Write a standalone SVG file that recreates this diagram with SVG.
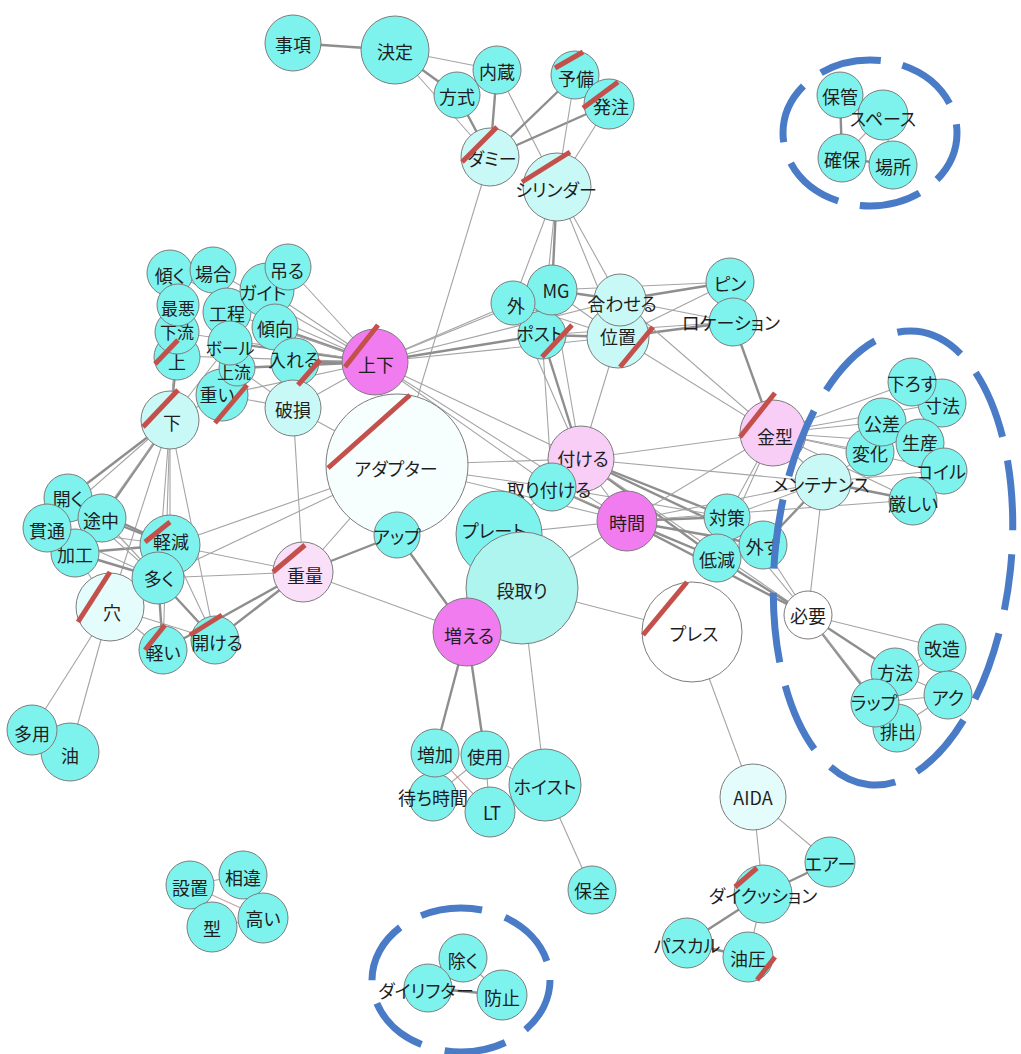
<svg xmlns="http://www.w3.org/2000/svg" width="1021" height="1054" viewBox="0 0 1021 1054">
<style>
  .e{stroke:#a4a4a4;stroke-width:1.1;fill:none}
  .t{stroke:#8e8e8e;stroke-width:2.4}
  .r{stroke:#c9a3a3}
  .node circle{stroke:#7c7c7c;stroke-width:1}
  .c{fill:#7ef3ee}
  .lc{fill:#c9f9f6}
  .dc{fill:#aef5f0}
  .vl{fill:#e4fcfb}
  .ad{fill:#f6fefe}
  .w{fill:#ffffff}
  .m{fill:#f07cf0}
  .lp{fill:#f8cdf6}
  .lp2{fill:#fadff9}
  text{font-family:"Noto Sans CJK JP","Noto Sans",sans-serif;font-size:18px;fill:#1e1e1e;text-anchor:middle;dominant-baseline:central;font-feature-settings:"palt"}
  .sm{font-size:17px}
  .slash line{stroke:#c4504c;stroke-width:5}
  .ring{fill:none;stroke:#4a7bc6;stroke-width:7}
</style>

<!-- connectors -->
<g id="edges">
  <line class="e t" x1="293" y1="43" x2="395" y2="50"/>
  <line class="e" x1="395" y1="50" x2="497" y2="70"/>
  <line class="e t" x1="395" y1="50" x2="457" y2="95"/>
  <line class="e" x1="395" y1="50" x2="490" y2="157"/>
  <line class="e t" x1="457" y1="95" x2="490" y2="157"/>
  <line class="e t" x1="497" y1="70" x2="490" y2="157"/>
  <line class="e" x1="497" y1="70" x2="557" y2="187"/>
  <line class="e t" x1="575" y1="75" x2="490" y2="157"/>
  <line class="e t" x1="609" y1="104" x2="490" y2="157"/>
  <line class="e" x1="575" y1="75" x2="557" y2="187"/>
  <line class="e" x1="609" y1="104" x2="557" y2="187"/>
  <line class="e" x1="490" y1="157" x2="397" y2="465"/>
  <line class="e" x1="557" y1="187" x2="513" y2="303"/>
  <line class="e t" x1="557" y1="187" x2="552" y2="290"/>
  <line class="e" x1="557" y1="187" x2="542" y2="335"/>
  <line class="e" x1="557" y1="187" x2="620" y2="300"/>
  <line class="e" x1="557" y1="187" x2="618" y2="337"/>

  <line class="e t" x1="840" y1="95" x2="842" y2="158"/>
  <line class="e" x1="840" y1="95" x2="883" y2="115"/>
  <line class="e r" x1="883" y1="115" x2="842" y2="158"/>
  <line class="e" x1="883" y1="115" x2="893" y2="165"/>
  <line class="e t" x1="842" y1="158" x2="893" y2="165"/>

  <line class="e" x1="288" y1="267" x2="375" y2="362"/>
  <line class="e" x1="267" y1="290" x2="375" y2="362"/>
  <line class="e t" x1="275" y1="327" x2="375" y2="362"/>
  <line class="e" x1="227" y1="312" x2="375" y2="362"/>
  <line class="e t" x1="230" y1="343" x2="375" y2="362"/>
  <line class="e t" x1="237" y1="368" x2="375" y2="362"/>
  <line class="e" x1="222" y1="395" x2="375" y2="362"/>
  <line class="e t" x1="295" y1="362" x2="375" y2="362"/>
  <line class="e" x1="213" y1="270" x2="375" y2="362"/>
  <line class="e" x1="170" y1="273" x2="375" y2="362"/>
  <line class="e" x1="177" y1="356" x2="375" y2="362"/>
  <line class="e" x1="177" y1="332" x2="375" y2="362"/>

  <line class="e t" x1="177" y1="356" x2="170" y2="420"/>
  <line class="e" x1="177" y1="332" x2="170" y2="420"/>
  <line class="e" x1="222" y1="395" x2="170" y2="420"/>
  <line class="e" x1="230" y1="343" x2="170" y2="420"/>
  <line class="e" x1="222" y1="395" x2="293" y2="408"/>
  <line class="e" x1="295" y1="362" x2="293" y2="408"/>
  <line class="e" x1="237" y1="368" x2="293" y2="408"/>
  <line class="e" x1="293" y1="408" x2="375" y2="362"/>
  <line class="e" x1="293" y1="408" x2="397" y2="465"/>
  <line class="e" x1="293" y1="408" x2="303" y2="572"/>

  <line class="e t" x1="170" y1="420" x2="68" y2="498"/>
  <line class="e t" x1="170" y1="420" x2="102" y2="518"/>
  <line class="e" x1="170" y1="420" x2="47" y2="528"/>
  <line class="e" x1="170" y1="420" x2="75" y2="553"/>
  <line class="e" x1="170" y1="420" x2="170" y2="545"/>
  <line class="e" x1="170" y1="420" x2="158" y2="578"/>
  <line class="e" x1="170" y1="420" x2="163" y2="650"/>
  <line class="e" x1="170" y1="420" x2="215" y2="640"/>
  <line class="e" x1="170" y1="420" x2="110" y2="607"/>

  <line class="e t" x1="68" y1="498" x2="170" y2="545"/>
  <line class="e t" x1="102" y1="518" x2="170" y2="545"/>
  <line class="e" x1="47" y1="528" x2="170" y2="545"/>
  <line class="e t" x1="75" y1="553" x2="170" y2="545"/>
  <line class="e t" x1="75" y1="553" x2="158" y2="578"/>
  <line class="e" x1="102" y1="518" x2="158" y2="578"/>
  <line class="e" x1="68" y1="498" x2="158" y2="578"/>
  <line class="e" x1="47" y1="528" x2="158" y2="578"/>
  <line class="e" x1="110" y1="607" x2="158" y2="578"/>
  <line class="e t" x1="158" y1="578" x2="163" y2="650"/>
  <line class="e t" x1="158" y1="578" x2="215" y2="640"/>
  <line class="e" x1="170" y1="545" x2="215" y2="640"/>
  <line class="e" x1="110" y1="607" x2="163" y2="650"/>
  <line class="e" x1="110" y1="607" x2="215" y2="640"/>
  <line class="e" x1="170" y1="545" x2="303" y2="572"/>
  <line class="e" x1="158" y1="578" x2="303" y2="572"/>
  <line class="e t" x1="163" y1="650" x2="303" y2="572"/>
  <line class="e t" x1="215" y1="640" x2="303" y2="572"/>
  <line class="e" x1="170" y1="545" x2="397" y2="465"/>
  <line class="e" x1="158" y1="578" x2="397" y2="465"/>
  <line class="e" x1="110" y1="607" x2="32" y2="730"/>
  <line class="e" x1="110" y1="607" x2="70" y2="752"/>
  <line class="e" x1="32" y1="730" x2="70" y2="752"/>
  <line class="e" x1="75" y1="553" x2="110" y2="607"/>

  <line class="e t" x1="303" y1="572" x2="397" y2="535"/>
  <line class="e" x1="303" y1="572" x2="467" y2="632"/>
  <line class="e" x1="303" y1="572" x2="397" y2="465"/>
  <line class="e t" x1="397" y1="535" x2="467" y2="632"/>
  <line class="e" x1="397" y1="535" x2="397" y2="465"/>

  <line class="e" x1="397" y1="465" x2="581" y2="459"/>
  <line class="e" x1="397" y1="465" x2="627" y2="521"/>
  <line class="e" x1="397" y1="465" x2="552" y2="487"/>
  <line class="e" x1="375" y1="362" x2="581" y2="459"/>
  <line class="e" x1="375" y1="362" x2="552" y2="487"/>
  <line class="e" x1="375" y1="362" x2="627" y2="521"/>
  <line class="e" x1="375" y1="362" x2="513" y2="303"/>
  <line class="e" x1="375" y1="362" x2="552" y2="290"/>
  <line class="e t" x1="375" y1="362" x2="542" y2="335"/>
  <line class="e" x1="375" y1="362" x2="620" y2="300"/>
  <line class="e" x1="375" y1="362" x2="618" y2="337"/>

  <line class="e" x1="513" y1="303" x2="581" y2="459"/>
  <line class="e" x1="552" y1="290" x2="581" y2="459"/>
  <line class="e t" x1="542" y1="335" x2="581" y2="459"/>
  <line class="e" x1="542" y1="335" x2="552" y2="487"/>
  <line class="e" x1="618" y1="337" x2="581" y2="459"/>
  <line class="e t" x1="552" y1="290" x2="620" y2="300"/>
  <line class="e" x1="552" y1="290" x2="618" y2="337"/>
  <line class="e t" x1="542" y1="335" x2="618" y2="337"/>
  <line class="e" x1="513" y1="303" x2="618" y2="337"/>
  <line class="e" x1="552" y1="290" x2="730" y2="282"/>
  <line class="e" x1="542" y1="335" x2="733" y2="322"/>
  <line class="e t" x1="620" y1="300" x2="730" y2="282"/>
  <line class="e" x1="620" y1="300" x2="733" y2="322"/>
  <line class="e" x1="618" y1="337" x2="730" y2="282"/>
  <line class="e t" x1="618" y1="337" x2="733" y2="322"/>
  <line class="e" x1="618" y1="337" x2="773" y2="433"/>
  <line class="e" x1="620" y1="300" x2="773" y2="433"/>
  <line class="e t" x1="733" y1="322" x2="773" y2="433"/>
  <line class="e" x1="581" y1="459" x2="773" y2="433"/>
  <line class="e" x1="581" y1="459" x2="823" y2="482"/>
  <line class="e t" x1="581" y1="459" x2="727" y2="517"/>
  <line class="e t" x1="581" y1="459" x2="763" y2="545"/>
  <line class="e t" x1="581" y1="459" x2="717" y2="558"/>
  <line class="e" x1="581" y1="459" x2="808" y2="615"/>
  <line class="e" x1="581" y1="459" x2="627" y2="521"/>
  <line class="e t" x1="552" y1="487" x2="627" y2="521"/>
  <line class="e" x1="552" y1="487" x2="727" y2="517"/>
  <line class="e" x1="552" y1="487" x2="717" y2="558"/>
  <line class="e t" x1="627" y1="521" x2="727" y2="517"/>
  <line class="e t" x1="627" y1="521" x2="763" y2="545"/>
  <line class="e t" x1="627" y1="521" x2="717" y2="558"/>
  <line class="e t" x1="627" y1="521" x2="808" y2="615"/>
  <line class="e" x1="627" y1="521" x2="773" y2="433"/>
  <line class="e" x1="627" y1="521" x2="823" y2="482"/>
  <line class="e" x1="627" y1="521" x2="522" y2="588"/>
  <line class="e" x1="627" y1="521" x2="499" y2="534"/>
  <line class="e" x1="773" y1="433" x2="727" y2="517"/>
  <line class="e" x1="773" y1="433" x2="717" y2="558"/>
  <line class="e" x1="773" y1="433" x2="823" y2="482"/>
  <line class="e" x1="773" y1="433" x2="912" y2="382"/>
  <line class="e" x1="773" y1="433" x2="942" y2="403"/>
  <line class="e" x1="773" y1="433" x2="882" y2="422"/>
  <line class="e" x1="773" y1="433" x2="870" y2="452"/>
  <line class="e" x1="773" y1="433" x2="920" y2="443"/>
  <line class="e" x1="773" y1="433" x2="944" y2="470"/>
  <line class="e" x1="773" y1="433" x2="913" y2="500"/>
  <line class="e" x1="823" y1="482" x2="727" y2="517"/>
  <line class="e t" x1="823" y1="482" x2="763" y2="545"/>
  <line class="e" x1="823" y1="482" x2="808" y2="615"/>
  <line class="e t" x1="823" y1="482" x2="913" y2="500"/>
  <line class="e" x1="823" y1="482" x2="944" y2="470"/>
  <line class="e" x1="823" y1="482" x2="870" y2="452"/>
  <line class="e" x1="627" y1="521" x2="913" y2="500"/>
  <line class="e" x1="808" y1="615" x2="942" y2="648"/>
  <line class="e t" x1="808" y1="615" x2="895" y2="672"/>
  <line class="e t" x1="808" y1="615" x2="875" y2="703"/>
  <line class="e" x1="808" y1="615" x2="897" y2="728"/>
  <line class="e" x1="808" y1="615" x2="763" y2="545"/>
  <line class="e t" x1="808" y1="615" x2="717" y2="558"/>
  <line class="e" x1="808" y1="615" x2="727" y2="517"/>
  <line class="e" x1="895" y1="672" x2="948" y2="695"/>
  <line class="e" x1="875" y1="703" x2="948" y2="695"/>
  <line class="e r" x1="942" y1="648" x2="875" y2="703"/>
  <line class="e" x1="897" y1="728" x2="948" y2="695"/>
  <line class="e r" x1="942" y1="648" x2="895" y2="672"/>
  <line class="e r" x1="912" y1="382" x2="942" y2="403"/>

  <line class="e" x1="522" y1="588" x2="692" y2="632"/>
  <line class="e" x1="522" y1="588" x2="545" y2="785"/>
  <line class="e r" x1="499" y1="534" x2="552" y2="487"/>
  <line class="e t" x1="467" y1="632" x2="435" y2="753"/>
  <line class="e t" x1="467" y1="632" x2="485" y2="755"/>
  <line class="e" x1="435" y1="753" x2="433" y2="797"/>
  <line class="e" x1="485" y1="755" x2="490" y2="812"/>
  <line class="e" x1="490" y1="812" x2="545" y2="785"/>
  <line class="e" x1="485" y1="755" x2="545" y2="785"/>
  <line class="e" x1="433" y1="797" x2="490" y2="812"/>
  <line class="e r" x1="435" y1="753" x2="490" y2="812"/>
  <line class="e" x1="485" y1="755" x2="433" y2="797"/>
  <line class="e" x1="545" y1="785" x2="592" y2="890"/>
  <line class="e" x1="692" y1="632" x2="753" y2="797"/>
  <line class="e" x1="753" y1="797" x2="763" y2="894"/>
  <line class="e" x1="753" y1="797" x2="830" y2="862"/>
  <line class="e t" x1="763" y1="894" x2="830" y2="862"/>
  <line class="e t" x1="763" y1="894" x2="687" y2="943"/>
  <line class="e" x1="763" y1="894" x2="748" y2="957"/>
  <line class="e t" x1="687" y1="943" x2="748" y2="957"/>
  <line class="e" x1="190" y1="885" x2="243" y2="875"/>
  <line class="e" x1="190" y1="885" x2="212" y2="927"/>
  <line class="e r" x1="190" y1="885" x2="263" y2="918"/>
  <line class="e" x1="243" y1="875" x2="263" y2="918"/>
  <line class="e" x1="212" y1="927" x2="263" y2="918"/>
  <line class="e" x1="463" y1="958" x2="428" y2="988"/>
  <line class="e t" x1="428" y1="988" x2="502" y2="995"/>
  <line class="e" x1="463" y1="958" x2="502" y2="995"/>
</g>

<!-- word nodes -->
<g id="nodes">
  <g id="n-jikou" class="node"><circle class="c" cx="293" cy="43" r="28"/><text x="293" y="44">事項</text></g>
  <g id="n-kettei" class="node"><circle class="c" cx="395" cy="50" r="34"/><text x="395" y="51">決定</text></g>
  <g id="n-naizou" class="node"><circle class="c" cx="497" cy="70" r="24"/><text x="497" y="71">内蔵</text></g>
  <g id="n-houshiki" class="node"><circle class="c" cx="457" cy="95" r="23"/><text x="457" y="96">方式</text></g>
  <g id="n-yobi" class="node"><circle class="c" cx="575" cy="75" r="24"/><text x="576" y="78">予備</text></g>
  <g id="n-hacchuu" class="node"><circle class="c" cx="609" cy="104" r="25"/><text x="611" y="106">発注</text></g>
  <g id="n-dummy" class="node"><circle class="lc" cx="490" cy="157" r="29"/><text x="492" y="158">ダミー</text></g>
  <g id="n-cylinder" class="node"><circle class="lc" cx="557" cy="187" r="34"/><text x="556" y="189">シリンダー</text></g>

  <g id="n-hokan" class="node"><circle class="c" cx="840" cy="95" r="23"/><text x="840" y="96">保管</text></g>
  <g id="n-space" class="node"><circle class="c" cx="883" cy="115" r="25"/><text x="883" y="118">スペース</text></g>
  <g id="n-kakuho" class="node"><circle class="c" cx="842" cy="158" r="24"/><text x="842" y="159">確保</text></g>
  <g id="n-basho" class="node"><circle class="c" cx="893" cy="165" r="24"/><text x="893" y="166">場所</text></g>

  <g id="n-katamuku" class="node"><circle class="c" cx="170" cy="273" r="23"/><text x="170" y="275">傾く</text></g>
  <g id="n-baai" class="node"><circle class="c" cx="213" cy="270" r="23"/><text x="213" y="273">場合</text></g>
  <g id="n-koutei" class="node"><circle class="c" cx="227" cy="312" r="24"/><text x="227" y="313">工程</text></g>
  <g id="n-guide" class="node"><circle class="c" cx="267" cy="290" r="27"/><text x="263" y="292">ガイド</text></g>
  <g id="n-tsuru" class="node"><circle class="c" cx="288" cy="267" r="23"/><text x="287" y="270">吊る</text></g>
  <g id="n-keikou" class="node"><circle class="c" cx="275" cy="327" r="23"/><text x="275" y="328">傾向</text></g>
  <g id="n-ue" class="node"><circle class="c" cx="177" cy="357" r="23"/><text x="177" y="361">上</text></g>
  <g id="n-karyuu" class="node"><circle class="c" cx="177" cy="332" r="22"/><text class="sm" x="177" y="331">下流</text></g>
  <g id="n-saiaku" class="node"><circle class="c" cx="178" cy="305" r="21"/><text class="sm" x="178" y="307">最悪</text></g>
  <g id="n-omoi" class="node"><circle class="c" cx="222" cy="395" r="26"/><text x="217" y="394">重い</text></g>
  <g id="n-jouryuu" class="node"><circle class="c" cx="237" cy="368" r="18"/><text class="sm" x="234" y="371">上流</text></g>
  <g id="n-ball" class="node"><circle class="c" cx="230" cy="343" r="22"/><text class="sm" x="230" y="347">ボール</text></g>
  <g id="n-ireru" class="node"><circle class="c" cx="295" cy="362" r="24"/><text x="294" y="359">入れる</text></g>
  <g id="n-hason" class="node"><circle class="lc" cx="293" cy="408" r="28"/><text x="293" y="409">破損</text></g>
  <g id="n-shita" class="node"><circle class="lc" cx="170" cy="420" r="29"/><text x="172" y="422">下</text></g>

  <g id="n-hiraku" class="node"><circle class="c" cx="68" cy="498" r="24"/><text x="68" y="498">開く</text></g>
  <g id="n-tochuu" class="node"><circle class="c" cx="102" cy="518" r="24"/><text x="101" y="520">途中</text></g>
  <g id="n-kakou" class="node"><circle class="c" cx="75" cy="553" r="24"/><text x="75" y="554">加工</text></g>
  <g id="n-kantsuu" class="node"><circle class="c" cx="47" cy="528" r="24"/><text x="47" y="530">貫通</text></g>
  <g id="n-ana" class="node"><circle class="vl" cx="110" cy="607" r="34"/><text x="112" y="612">穴</text></g>
  <g id="n-keigen" class="node"><circle class="c" cx="170" cy="545" r="30"/><text x="171" y="541">軽減</text></g>
  <g id="n-ooku" class="node"><circle class="c" cx="158" cy="578" r="26"/><text x="159" y="578">多く</text></g>
  <g id="n-karui" class="node"><circle class="c" cx="163" cy="650" r="24"/><text x="163" y="652">軽い</text></g>
  <g id="n-akeru" class="node"><circle class="c" cx="215" cy="640" r="24"/><text x="217" y="642">開ける</text></g>
  <g id="n-juuryou" class="node"><circle class="lp2" cx="303" cy="572" r="30"/><text x="305" y="575">重量</text></g>
  <g id="n-abura" class="node"><circle class="c" cx="70" cy="752" r="29"/><text x="70" y="755">油</text></g>
  <g id="n-tayou" class="node"><circle class="c" cx="32" cy="730" r="25"/><text x="32" y="733">多用</text></g>

  <g id="n-jouge" class="node"><circle class="m" cx="375" cy="362" r="33"/><text x="376" y="364">上下</text></g>
  <g id="n-adapter" class="node"><circle class="ad" cx="397" cy="465" r="71"/><text x="396" y="468">アダプター</text></g>
  <g id="n-post" class="node"><circle class="c" cx="542" cy="335" r="24"/><text x="540" y="333">ポスト</text></g>
  <g id="n-mg" class="node"><circle class="c" cx="552" cy="290" r="25"/><text x="556" y="290">MG</text></g>
  <g id="n-soto" class="node"><circle class="c" cx="513" cy="303" r="22"/><text x="516" y="305">外</text></g>
  <g id="n-ichi" class="node"><circle class="lc" cx="618" cy="337" r="31"/><text x="618" y="336">位置</text></g>
  <g id="n-awaseru" class="node"><circle class="lc" cx="620" cy="300" r="26"/><text x="622" y="303">合わせる</text></g>
  <g id="n-pin" class="node"><circle class="c" cx="730" cy="282" r="24"/><text x="730" y="283">ピン</text></g>
  <g id="n-location" class="node"><circle class="c" cx="733" cy="322" r="24"/><text x="731" y="322">ロケーション</text></g>
  <g id="n-tsukeru" class="node"><circle class="lp" cx="581" cy="459" r="33"/><text x="583" y="458">付ける</text></g>
  <g id="n-toritsukeru" class="node"><circle class="c" cx="552" cy="487" r="24"/><text x="549" y="489">取り付ける</text></g>
  <g id="n-jikan" class="node"><circle class="m" cx="627" cy="521" r="30"/><text x="627" y="522">時間</text></g>
  <g id="n-up" class="node"><circle class="c" cx="397" cy="535" r="23"/><text x="397" y="536">アップ</text></g>
  <g id="n-plate" class="node"><circle class="c" cx="499" cy="534" r="43"/><text x="494" y="530">プレート</text></g>
  <g id="n-dandori" class="node"><circle class="dc" cx="522" cy="588" r="56"/><text x="522" y="590">段取り</text></g>
  <g id="n-fueru" class="node"><circle class="m" cx="467" cy="632" r="34"/><text x="469" y="635">増える</text></g>

  <g id="n-machijikan" class="node"><circle class="c" cx="433" cy="797" r="24"/><text x="433" y="797">待ち時間</text></g>
  <g id="n-zouka" class="node"><circle class="c" cx="435" cy="753" r="24"/><text x="435" y="754">増加</text></g>
  <g id="n-shiyou" class="node"><circle class="c" cx="485" cy="755" r="24"/><text x="485" y="756">使用</text></g>
  <g id="n-lt" class="node"><circle class="c" cx="490" cy="812" r="25"/><text x="492" y="812">LT</text></g>
  <g id="n-hoist" class="node"><circle class="c" cx="545" cy="785" r="36"/><text x="545" y="786">ホイスト</text></g>
  <g id="n-hozen" class="node"><circle class="c" cx="592" cy="890" r="24"/><text x="592" y="890">保全</text></g>

  <g id="n-kanagata" class="node"><circle class="lp" cx="773" cy="433" r="33"/><text x="775" y="436">金型</text></g>
  <g id="n-sunpou" class="node"><circle class="c" cx="942" cy="403" r="24"/><text x="942" y="405">寸法</text></g>
  <g id="n-orosu" class="node"><circle class="c" cx="912" cy="382" r="24"/><text x="912" y="383">下ろす</text></g>
  <g id="n-henka" class="node"><circle class="c" cx="870" cy="452" r="24"/><text x="870" y="453">変化</text></g>
  <g id="n-kousa" class="node"><circle class="c" cx="882" cy="422" r="24"/><text x="882" y="423">公差</text></g>
  <g id="n-seisan" class="node"><circle class="c" cx="920" cy="443" r="24"/><text x="920" y="442">生産</text></g>
  <g id="n-coil" class="node"><circle class="c" cx="944" cy="471" r="23"/><text x="941" y="471">コイル</text></g>
  <g id="n-kibishii" class="node"><circle class="c" cx="913" cy="501" r="24"/><text x="913" y="503">厳しい</text></g>
  <g id="n-maintenance" class="node"><circle class="lc" cx="823" cy="482" r="28"/><text x="821" y="484">メンテナンス</text></g>
  <g id="n-taisaku" class="node"><circle class="c" cx="727" cy="517" r="23"/><text x="727" y="517">対策</text></g>
  <g id="n-teigen" class="node"><circle class="c" cx="717" cy="558" r="24"/><text x="717" y="559">低減</text></g>
  <g id="n-hazusu" class="node"><circle class="c" cx="763" cy="545" r="24"/><text x="763" y="546">外す</text></g>
  <g id="n-hitsuyou" class="node"><circle class="w" cx="808" cy="615" r="24"/><text x="808" y="615">必要</text></g>
  <g id="n-press" class="node"><circle class="w" cx="692" cy="632" r="50"/><text x="694" y="633">プレス</text></g>
  <g id="n-kaizou" class="node"><circle class="c" cx="942" cy="648" r="24"/><text x="942" y="648">改造</text></g>
  <g id="n-aku" class="node"><circle class="c" cx="948" cy="695" r="24"/><text x="948" y="697">アク</text></g>
  <g id="n-houhou" class="node"><circle class="c" cx="895" cy="672" r="24"/><text x="895" y="672">方法</text></g>
  <g id="n-haishutsu" class="node"><circle class="c" cx="897" cy="728" r="24"/><text x="898" y="731">排出</text></g>
  <g id="n-wrap" class="node"><circle class="c" cx="875" cy="703" r="24"/><text x="874" y="702">ラップ</text></g>

  <g id="n-aida" class="node"><circle class="vl" cx="753" cy="797" r="33"/><text x="753" y="797">AIDA</text></g>
  <g id="n-air" class="node"><circle class="c" cx="830" cy="862" r="25"/><text x="830" y="863">エアー</text></g>
  <g id="n-diecushion" class="node"><circle class="c" cx="763" cy="894" r="29"/><text x="763" y="895">ダイクッション</text></g>
  <g id="n-pascal" class="node"><circle class="c" cx="687" cy="943" r="25"/><text x="687" y="945">パスカル</text></g>
  <g id="n-atsu" class="node"><circle class="c" cx="748" cy="957" r="25"/><text x="748" y="958">油圧</text></g>

  <g id="n-secchi" class="node"><circle class="c" cx="190" cy="885" r="24"/><text x="190" y="887">設置</text></g>
  <g id="n-soui" class="node"><circle class="c" cx="243" cy="875" r="24"/><text x="243" y="877">相違</text></g>
  <g id="n-kata" class="node"><circle class="c" cx="212" cy="927" r="25"/><text x="212" y="928">型</text></g>
  <g id="n-takai" class="node"><circle class="c" cx="263" cy="918" r="25"/><text x="263" y="918">高い</text></g>

  <g id="n-nozoku" class="node"><circle class="c" cx="463" cy="958" r="24"/><text x="463" y="960">除く</text></g>
  <g id="n-dielifter" class="node"><circle class="c" cx="428" cy="988" r="24"/><text x="426" y="990">ダイリフター</text></g>
  <g id="n-boushi" class="node"><circle class="c" cx="502" cy="995" r="25"/><text x="502" y="997">防止</text></g>
</g>

<!-- red slash markers on flagged words -->
<g id="marks" class="slash">
  <line x1="155" y1="364" x2="178" y2="340"/>
  <line x1="143" y1="427" x2="178" y2="390"/>
  <line x1="215" y1="423" x2="247" y2="385"/>
  <line x1="298" y1="385" x2="320" y2="360"/>
  <line x1="145" y1="542" x2="170" y2="522"/>
  <line x1="78" y1="622" x2="110" y2="572"/>
  <line x1="145" y1="650" x2="165" y2="625"/>
  <line x1="190" y1="635" x2="222" y2="615"/>
  <line x1="273" y1="572" x2="305" y2="545"/>
  <line x1="345" y1="367" x2="378" y2="325"/>
  <line x1="328" y1="468" x2="410" y2="395"/>
  <line x1="542" y1="357" x2="572" y2="325"/>
  <line x1="620" y1="367" x2="653" y2="327"/>
  <line x1="740" y1="437" x2="775" y2="393"/>
  <line x1="643" y1="635" x2="687" y2="582"/>
  <line x1="462" y1="162" x2="497" y2="127"/>
  <line x1="522" y1="182" x2="570" y2="152"/>
  <line x1="555" y1="68" x2="583" y2="52"/>
  <line x1="583" y1="108" x2="618" y2="82"/>
  <line x1="735" y1="887" x2="757" y2="868"/>
  <line x1="757" y1="980" x2="775" y2="957"/>
</g>

<!-- dashed group outlines -->
<g id="groups">
  <ellipse class="ring" cx="870" cy="133" rx="87" ry="73" stroke-dasharray="62 22" stroke-dashoffset="10"/>
  <ellipse class="ring" cx="893" cy="558" rx="118" ry="228" transform="rotate(6 893 558)" stroke-dasharray="70 24" stroke-dashoffset="30"/>
  <ellipse class="ring" cx="461" cy="980" rx="89" ry="72" stroke-dasharray="62 24" stroke-dashoffset="5"/>
</g>
</svg>
